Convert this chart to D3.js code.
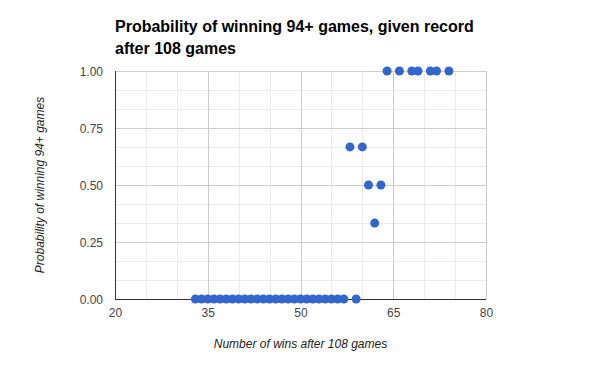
<!DOCTYPE html>
<html>
<head>
<meta charset="utf-8">
<script src="https://cdn.jsdelivr.net/npm/d3@7"></script>
<style>
  body { margin: 0; background: #fff; }
  text { font-family: "Liberation Sans", Arial, sans-serif; }
</style>
</head>
<body>
<div id="chart"></div>
<script>
// wins after 108 games and the probability of reaching 94+
var wins = [33, 34, 35, 36, 37, 38, 39, 40, 41, 42, 43, 44, 45, 46, 47, 48, 49, 50,
    51, 52, 53, 54, 55, 56, 57, 58, 59, 60, 61, 62, 63, 64, 66, 68, 69, 71, 72, 74];
var probs = [0, 0, 0, 0, 0, 0, 0, 0, 0, 0, 0, 0, 0, 0, 0, 0, 0, 0,
    0, 0, 0, 0, 0, 0, 0, 0.667, 0, 0.667, 0.5, 0.333, 0.5, 1, 1, 1, 1, 1, 1, 1];
var xTicks = [20, 35, 50, 65, 80];
var yTicks = [0, 0.25, 0.5, 0.75, 1];
var titleLines = ["Probability of winning 94+ games, given record", "after 108 games"];

var width = 600, height = 371;
var plotLeft = 115, plotRight = 486, plotTop = 71, plotBottom = 299;

var svg = d3.select("#chart").append("svg")
    .attr("width", width)
    .attr("height", height);

var x = d3.scaleLinear().domain([20, 80]).range([plotLeft, plotRight]);
var y = d3.scaleLinear().domain([0, 1]).range([plotBottom, plotTop]);

// minor gridlines
var xMinor = d3.range(20, 80.1, 5).filter(function(d) { return xTicks.indexOf(d) < 0; });
var yMinor = d3.range(0, 12.1, 1).map(function(d) { return d / 12; })
    .filter(function(d, i) { return i % 3 != 0; });

svg.append("g").selectAll("line").data(xMinor).enter().append("line")
    .attr("x1", function(d) { return Math.round(x(d)) + 0.5; })
    .attr("x2", function(d) { return Math.round(x(d)) + 0.5; })
    .attr("y1", plotTop).attr("y2", plotBottom)
    .attr("stroke", "#ebebeb");
svg.append("g").selectAll("line").data(yMinor).enter().append("line")
    .attr("y1", function(d) { return Math.round(y(d)) + 0.5; })
    .attr("y2", function(d) { return Math.round(y(d)) + 0.5; })
    .attr("x1", plotLeft).attr("x2", plotRight)
    .attr("stroke", "#ebebeb");

// major gridlines
svg.append("g").selectAll("line").data(xTicks).enter().append("line")
    .attr("x1", function(d) { return Math.round(x(d)) + 0.5; })
    .attr("x2", function(d) { return Math.round(x(d)) + 0.5; })
    .attr("y1", plotTop).attr("y2", plotBottom)
    .attr("stroke", "#cccccc");
svg.append("g").selectAll("line").data(yTicks).enter().append("line")
    .attr("y1", function(d) { return Math.round(y(d)) + 0.5; })
    .attr("y2", function(d) { return Math.round(y(d)) + 0.5; })
    .attr("x1", plotLeft).attr("x2", plotRight)
    .attr("stroke", "#cccccc");

// baseline and left axis
svg.append("line")
    .attr("x1", plotLeft).attr("x2", plotRight)
    .attr("y1", Math.round(y(0)) + 0.5).attr("y2", Math.round(y(0)) + 0.5)
    .attr("stroke", "#333");
svg.append("line")
    .attr("x1", plotLeft + 0.5).attr("x2", plotLeft + 0.5)
    .attr("y1", plotTop).attr("y2", plotBottom)
    .attr("stroke", "#333");

// axes (labels only)
var xAxis = svg.append("g")
    .attr("transform", "translate(0," + (plotBottom + 9) + ")")
    .call(d3.axisBottom(x).tickValues(xTicks).tickSize(0).tickPadding(0));
var yAxis = svg.append("g")
    .attr("transform", "translate(" + (plotLeft - 12) + ",0)")
    .call(d3.axisLeft(y).tickValues(yTicks).tickFormat(d3.format(".2f")).tickSize(0).tickPadding(0));
[xAxis, yAxis].forEach(function(a) {
    a.select(".domain").remove();
    a.selectAll("text")
        .attr("fill", "#444")
        .style("font-size", "12px")
        .style("font-family", "'Liberation Sans', Arial, sans-serif");
});
yAxis.selectAll("text").attr("dy", "0.35em");

// points
var pts = wins.map(function(w, i) { return { w: w, p: probs[i] }; });
svg.append("g").selectAll("circle").data(pts).enter().append("circle")
    .attr("cx", function(d) { return x(d.w); })
    .attr("cy", function(d) { return y(d.p); })
    .attr("r", 4.5)
    .attr("fill", "#3366cc");

// title
svg.append("g").selectAll("text").data(titleLines).enter().append("text")
    .attr("x", plotLeft)
    .attr("y", function(d, i) { return 32 + i * 22; })
    .attr("font-size", "16px")
    .attr("font-weight", "bold")
    .attr("fill", "#000")
    .text(function(d) { return d; });

// axis titles
svg.append("text")
    .attr("x", (plotLeft + plotRight) / 2)
    .attr("y", 348)
    .attr("text-anchor", "middle")
    .attr("font-size", "12px")
    .attr("font-style", "italic")
    .attr("fill", "#222")
    .text("Number of wins after 108 games");

svg.append("text")
    .attr("transform", "translate(44," + ((plotTop + plotBottom) / 2) + ") rotate(-90)")
    .attr("text-anchor", "middle")
    .attr("font-size", "12px")
    .attr("font-style", "italic")
    .attr("fill", "#222")
    .text("Probability of winning 94+ games");
</script>
</body>
</html>
